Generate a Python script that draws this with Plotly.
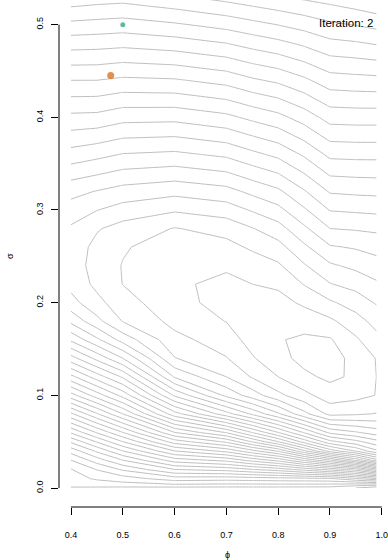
import plotly.graph_objects as go

# ---- grid (phi columns, sigma rows) ----
phi_grid = [0.40, 0.45, 0.50, 0.60, 0.70, 0.75, 0.80, 0.85, 0.90, 0.95, 0.99]
sigma_grid = [0.0, 0.002, 0.01, 0.02, 0.03, 0.04, 0.05, 0.06, 0.08, 0.10, 0.12,
              0.14, 0.16, 0.18, 0.20, 0.22, 0.24, 0.26, 0.28, 0.32, 0.36, 0.40,
              0.44, 0.48, 0.52, 0.56]

# log-likelihood drop below the maximum (in contour steps), one list per phi column
lvl_phi_040 = [32.5, 31.5, 31.3, 31.05, 30.0, 28.6, 26.8, 24.85, 21.2, 17.4, 14.3, 11.4, 8.8, 6.75, 5.35, 4.7, 4.52, 4.6, 4.85, 6.3, 8.6, 10.75, 13.0, 15.45, 18.05, 20.4]
lvl_phi_045 = [32.5, 31.55, 30.9, 29.95, 28.5, 26.8, 24.9, 22.9, 19.1, 15.5, 12.5, 9.7, 7.2, 5.3, 4.3, 3.75, 3.6, 3.7, 4.1, 5.95, 8.3, 10.7, 13.0, 15.4, 17.9, 20.3]
lvl_phi_050 = [32.5, 31.6, 30.5, 28.85, 27.0, 25.0, 23.0, 21.0, 17.0, 13.65, 10.85, 8.0, 5.6, 3.95, 3.4, 2.98, 2.95, 3.1, 3.6, 5.6, 7.95, 10.35, 12.8, 15.3, 17.8, 20.3]
lvl_phi_060 = [32.5, 31.5, 29.5, 27.0, 24.5, 22.0, 19.5, 17.0, 12.4, 8.85, 5.9, 4.05, 3.3, 2.7, 2.35, 2.17, 2.25, 2.5, 2.95, 5.3, 7.8, 10.3, 12.9, 15.55, 18.2, 20.8]
lvl_phi_070 = [32.5, 31.6, 29.6, 26.6, 23.7, 20.7, 17.8, 14.9, 9.4, 5.75, 4.0, 3.05, 2.5, 1.97, 1.63, 1.75, 2.15, 2.7, 3.35, 5.65, 8.2, 10.75, 13.35, 16.0, 18.7, 21.3]
lvl_phi_075 = [32.5, 31.6, 29.5, 26.05, 22.65, 19.3, 15.9, 12.95, 7.8, 4.5, 2.9, 2.1, 1.6, 1.36, 1.5, 2.0, 2.5, 3.15, 3.95, 6.25, 8.75, 11.25, 13.85, 16.4, 19.0, 21.6]
lvl_phi_080 = [32.5, 31.6, 29.4, 25.5, 21.67, 17.85, 14.0, 11.0, 6.15, 3.27, 2.0, 1.3, 1.06, 1.25, 1.6, 2.2, 2.85, 3.65, 4.6, 6.8, 9.25, 11.7, 14.2, 16.75, 19.3, 21.9]
lvl_phi_085 = [32.5, 31.65, 29.3, 24.6, 19.9, 15.2, 11.6, 8.9, 4.3, 2.3, 1.2, 0.72, 0.85, 1.35, 2.2, 3.05, 3.9, 4.8, 5.8, 7.9, 10.15, 12.45, 14.8, 17.2, 19.6, 22.0]
lvl_phi_090 = [32.5, 31.7, 29.2, 23.7, 18.1, 12.55, 9.3, 6.75, 2.7, 1.45, 0.8, 0.55, 0.9, 1.8, 2.85, 3.95, 4.85, 5.9, 7.0, 9.1, 11.25, 13.4, 15.55, 17.75, 19.9, 22.1]
lvl_phi_095 = [33.0, 32.2, 28.2, 22.5, 15.8, 10.9, 8.3, 6.1, 2.85, 1.7, 1.17, 1.35, 1.85, 2.6, 3.45, 4.35, 5.25, 6.1, 7.1, 9.2, 11.3, 13.45, 15.65, 17.9, 20.2, 22.5]
lvl_phi_099 = [33.5, 32.7, 27.2, 20.3, 13.4, 9.17, 7.33, 5.5, 3.05, 2.03, 2.01, 2.05, 2.7, 3.35, 4.1, 4.85, 5.6, 6.35, 7.2, 9.25, 11.3, 13.45, 15.7, 18.1, 20.5, 22.9]

# sampler positions
pt_phi = [0.5, 0.4766]
pt_sigma = [0.5, 0.445]
pt_colors = ["#1B9E77", "#D95F02"]
pt_sizes = [5, 7]

x_ticks = [0.4, 0.5, 0.6, 0.7, 0.8, 0.9, 1.0]
y_ticks = [0.0, 0.1, 0.2, 0.3, 0.4, 0.5]
annot_text = "Iteration: 2"

columns = [lvl_phi_040, lvl_phi_045, lvl_phi_050, lvl_phi_060, lvl_phi_070,
           lvl_phi_075, lvl_phi_080, lvl_phi_085, lvl_phi_090, lvl_phi_095, lvl_phi_099]
z = [[col[i] for col in columns] for i in range(len(sigma_grid))]

FONT = "Liberation Sans, Arial, Helvetica, sans-serif"
GREY = "#bebebe"

fig = go.Figure()
fig.add_trace(go.Contour(
    x=phi_grid, y=sigma_grid, z=z,
    contours=dict(coloring="lines", start=1, end=40, size=1, showlabels=False),
    colorscale=[[0, GREY], [1, GREY]],
    line=dict(width=1, smoothing=0),
    showscale=False, hoverinfo="skip",
))
fig.add_trace(go.Scatter(
    x=pt_phi, y=pt_sigma, mode="markers",
    marker=dict(color=pt_colors, size=pt_sizes, line=dict(width=0)),
    hoverinfo="skip", showlegend=False,
))

fig.update_layout(
    width=388, height=560,
    margin=dict(l=59, r=0, t=0, b=53),
    paper_bgcolor="white", plot_bgcolor="white",
    showlegend=False,
    font=dict(family=FONT, size=9, color="#000000"),
    xaxis=dict(range=[0.3768, 1.0120], showgrid=False, zeroline=False, showline=False,
               ticks="outside", ticklen=7, tickwidth=1, tickcolor="#000000",
               tickvals=x_ticks, ticktext=[f"{v:.1f}" for v in x_ticks],
               ticklabelstandoff=12, ticklabeloverflow="allow",
               tickfont=dict(size=9, family=FONT)),
    yaxis=dict(range=[-0.0205, 0.5266], showgrid=False, zeroline=False, showline=False,
               ticks="outside", ticklen=7, tickwidth=1, tickcolor="#000000",
               tickvals=y_ticks, ticktext=[f"{v:.1f}" for v in y_ticks],
               tickangle=-90, ticklabelstandoff=4, ticklabeloverflow="allow",
               tickfont=dict(size=9, family=FONT)),
    shapes=[
        dict(type="line", xref="x", yref="paper", x0=x_ticks[0], x1=x_ticks[-1], y0=0, y1=0,
             line=dict(color="#000000", width=1)),
        dict(type="line", xref="paper", yref="y", x0=0, x1=0, y0=y_ticks[0], y1=y_ticks[-1],
             line=dict(color="#000000", width=1)),
    ],
    annotations=[
        dict(text=annot_text, xref="paper", yref="paper", x=0.9605, y=0.9546,
             xanchor="right", yanchor="middle", showarrow=False,
             font=dict(size=11.5, family=FONT, color="#000000")),
        dict(text="σ", xref="paper", yref="paper", x=-49 / 329, y=(507 - 256) / 507,
             xanchor="center", yanchor="middle", showarrow=False, textangle=-90,
             font=dict(size=9, family=FONT, color="#000000")),
        dict(text="ϕ", xref="paper", yref="paper", x=(227 - 59) / 329, y=-(555 - 507) / 507,
             xanchor="center", yanchor="middle", showarrow=False,
             font=dict(size=9, family=FONT, color="#000000")),
    ],
)

fig.write_html("out.html", config={"displayModeBar": False},
               post_script="document.body.style.margin='0px';")
